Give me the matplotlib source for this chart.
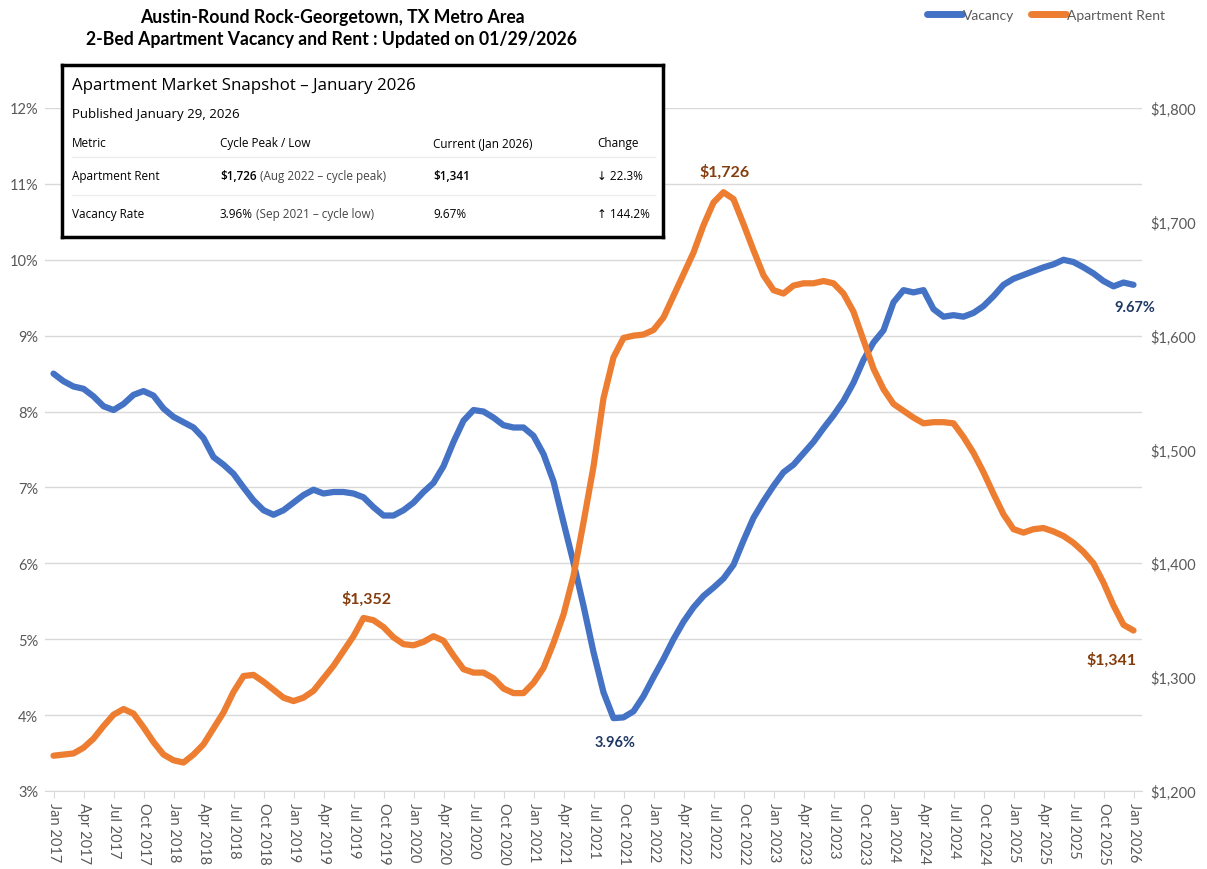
import matplotlib
matplotlib.use("Agg")
import matplotlib.pyplot as plt
from matplotlib.lines import Line2D
from matplotlib.ticker import FuncFormatter, MultipleLocator
import pandas as pd

# monthly data, Jan 2017 .. Jan 2026
months = pd.date_range("2017-01-01", periods=109, freq="MS")

vacancy = [8.50, 8.40, 8.33, 8.30, 8.20, 8.07, 8.02, 8.10, 8.22, 8.27, 8.21, 8.04,
           7.93, 7.86, 7.79, 7.65, 7.40, 7.30, 7.18, 7.00, 6.83, 6.70, 6.64, 6.70,
           6.80, 6.90, 6.97, 6.92, 6.94, 6.94, 6.92, 6.87, 6.74, 6.63, 6.63, 6.70,
           6.80, 6.94, 7.06, 7.28, 7.60, 7.88, 8.02, 8.00, 7.92, 7.82, 7.79, 7.79,
           7.68, 7.44, 7.08, 6.54, 6.01, 5.44, 4.83, 4.30, 3.96, 3.97, 4.05, 4.25,
           4.50, 4.74, 5.00, 5.23, 5.42, 5.57, 5.68, 5.80, 5.98, 6.30, 6.60, 6.82,
           7.02, 7.20, 7.30, 7.45, 7.60, 7.78, 7.95, 8.14, 8.38, 8.68, 8.91, 9.07,
           9.44, 9.60, 9.57, 9.60, 9.35, 9.25, 9.27, 9.25, 9.30, 9.39, 9.52, 9.67,
           9.75, 9.80, 9.85, 9.90, 9.94, 10.00, 9.97, 9.90, 9.82, 9.72, 9.65, 9.70,
           9.67]

rent = [1231, 1232, 1233, 1238, 1246, 1257, 1267, 1272, 1268, 1256, 1243, 1232,
        1227, 1225, 1232, 1241, 1255, 1269, 1287, 1301, 1302, 1296, 1289, 1282,
        1279, 1282, 1288, 1299, 1310, 1323, 1336, 1352, 1350, 1344, 1335, 1329,
        1328, 1331, 1336, 1332, 1319, 1307, 1304, 1304, 1299, 1290, 1286, 1286,
        1295, 1308, 1330, 1355, 1389, 1436, 1485, 1545, 1581, 1598, 1600, 1601,
        1605, 1616, 1635, 1654, 1673, 1697, 1717, 1726, 1720, 1698, 1675, 1653,
        1640, 1637, 1644, 1646, 1646, 1648, 1646, 1637, 1621, 1596, 1571, 1553,
        1540, 1534, 1528, 1523, 1524, 1524, 1523, 1511, 1497, 1480, 1461, 1443,
        1430, 1427, 1430, 1431, 1428, 1424, 1418, 1410, 1400, 1383, 1363, 1346,
        1341]

tick_idx = list(range(0, 109, 3))
tick_labels = [months[i].strftime("%b %Y") for i in tick_idx]

# snapshot table
snap_title = "Apartment Market Snapshot \u2013 January 2026"
snap_sub = "Published January 29, 2026"
snap_header = ["Metric", "Cycle Peak / Low", "Current (Jan 2026)", "Change"]
snap_rows = [
    ["Apartment Rent", "$1,726", " (Aug 2022 \u2013 cycle peak)", "$1,341", "\u2193 22.3%"],
    ["Vacancy Rate", "3.96%", " (Sep 2021 \u2013 cycle low)", "9.67%", "\u2191 144.2%"],
]

BLUE = "#4472c4"
ORANGE = "#ed7d31"
GREY = "#595959"
CHART_FONT = ["Lato", "DejaVu Sans"]
BOX_FONT = ["Open Sans", "DejaVu Sans"]

plt.rcParams["font.family"] = CHART_FONT

W, H = 1207, 870
fig = plt.figure(figsize=(W / 100, H / 100), dpi=100)
ax = fig.add_axes([45 / W, 78 / H, 1097 / W, 683 / H])
ax2 = ax.twinx()

x = list(range(len(months)))
ax.plot(x, vacancy, color=BLUE, lw=4.5, solid_capstyle="round", solid_joinstyle="round")
ax2.plot(x, rent, color=ORANGE, lw=4.5, solid_capstyle="round", solid_joinstyle="round")

ax.set_xlim(-0.85, 108.85)
ax.set_ylim(3, 12)
ax2.set_ylim(1200, 1800)
ax.yaxis.set_major_locator(MultipleLocator(1))
ax2.yaxis.set_major_locator(MultipleLocator(100))
ax.yaxis.set_major_formatter(FuncFormatter(lambda v, p: "%d%%" % v))
ax2.yaxis.set_major_formatter(FuncFormatter(lambda v, p: "${:,.0f}".format(v)))

ax.grid(axis="y", color="#d9d9d9", lw=1)
ax.set_axisbelow(True)
for a in (ax, ax2):
    for s in a.spines.values():
        s.set_visible(False)
ax.spines["bottom"].set_visible(True)
ax.spines["bottom"].set_color("#d9d9d9")

ax.set_xticks(tick_idx)
ax.set_xticklabels(tick_labels, rotation=-90, fontsize=10.5, color=GREY)
ax.tick_params(axis="x", length=5, color="#d9d9d9", pad=3)
ax.tick_params(axis="y", length=0, labelsize=10.5, labelcolor=GREY, pad=5)
ax2.tick_params(axis="y", length=0, labelsize=10.5, labelcolor=GREY, pad=6)

# data labels
i_low = vacancy.index(min(vacancy))
i_peak = rent.index(max(rent))
ax.annotate("%.2f%%" % vacancy[i_low], (i_low, vacancy[i_low]), xytext=(1, -17),
            textcoords="offset points", ha="center", va="center",
            fontsize=10.5, fontweight="bold", color="#203864")
ax.annotate("%.2f%%" % vacancy[-1], (108, vacancy[-1]), xytext=(1, -16),
            textcoords="offset points", ha="center", va="center",
            fontsize=10.5, fontweight="bold", color="#203864")
ax2.annotate("${:,}".format(rent[i_peak]), (i_peak, rent[i_peak]), xytext=(1, 15),
             textcoords="offset points", ha="center", va="center",
             fontsize=11.5, fontweight="bold", color="#843c0c")
ax2.annotate("${:,}".format(rent[31]), (31, rent[31]), xytext=(2, 14.5),
             textcoords="offset points", ha="center", va="center",
             fontsize=11.5, fontweight="bold", color="#843c0c")
ax2.annotate("${:,}".format(rent[-1]), (108, rent[-1]), xytext=(-15.5, -21),
             textcoords="offset points", ha="center", va="center",
             fontsize=11.5, fontweight="bold", color="#843c0c")

# title
fig.text(332 / W, 1 - 17 / H, "Austin-Round Rock-Georgetown, TX Metro Area",
         ha="center", va="center", fontsize=12.7, fontweight="bold")
fig.text(332 / W, 1 - 40 / H, "2-Bed Apartment Vacancy and Rent : Updated on 01/29/2026",
         ha="center", va="center", fontsize=12.7, fontweight="bold")

# legend
handles = [Line2D([], [], color=BLUE, lw=5, solid_capstyle="round"),
           Line2D([], [], color=ORANGE, lw=5, solid_capstyle="round")]
leg = fig.legend(handles, ["Vacancy", "Apartment Rent"], loc="center",
                 bbox_to_anchor=(1046 / W, 1 - 16 / H), ncol=2, frameon=False,
                 fontsize=10, handlelength=2.5, handletextpad=0.1, columnspacing=1.2)
for t in leg.get_texts():
    t.set_color(GREY)

# snapshot box
bx = fig.add_axes([62 / W, 1 - 238 / H, 601 / W, 172 / H])
bx.set_xticks([])
bx.set_yticks([])
bx.set_xlim(0, 601)
bx.set_ylim(172, 0)
for s in bx.spines.values():
    s.set_linewidth(2.5)
    s.set_color("black")

cols = [10, 158, 371, 535]
bx.text(10, 20, snap_title, fontsize=12.2, family=BOX_FONT, va="center")
bx.text(10, 49, snap_sub, fontsize=9.5, family=BOX_FONT, va="center")
for cx, h in zip(cols, snap_header):
    bx.text(cx, 78, h, fontsize=8.5, family=BOX_FONT, va="center")
for yy in (92, 130):
    bx.plot([10, 593], [yy, yy], color="#ececec", lw=1)
for ry, row in zip((111, 149), snap_rows):
    bx.text(cols[0], ry, row[0], fontsize=8.5, family=BOX_FONT, va="center")
    t = bx.text(cols[1], ry, row[1], fontsize=8.5, family=BOX_FONT, va="center",
                fontweight="semibold" if row[1].startswith("$") else "normal")
    bx.annotate(row[2], xy=(1, 0.5), xycoords=t, va="center", fontsize=8.5,
                family=BOX_FONT, color="#444444")
    bx.text(cols[2], ry, row[3], fontsize=8.5, family=BOX_FONT, va="center",
            fontweight="semibold" if row[3].startswith("$") else "normal")
    bx.text(cols[3], ry, row[4], fontsize=8.5, family=BOX_FONT, va="center")

fig.savefig("out.png", dpi=100)
